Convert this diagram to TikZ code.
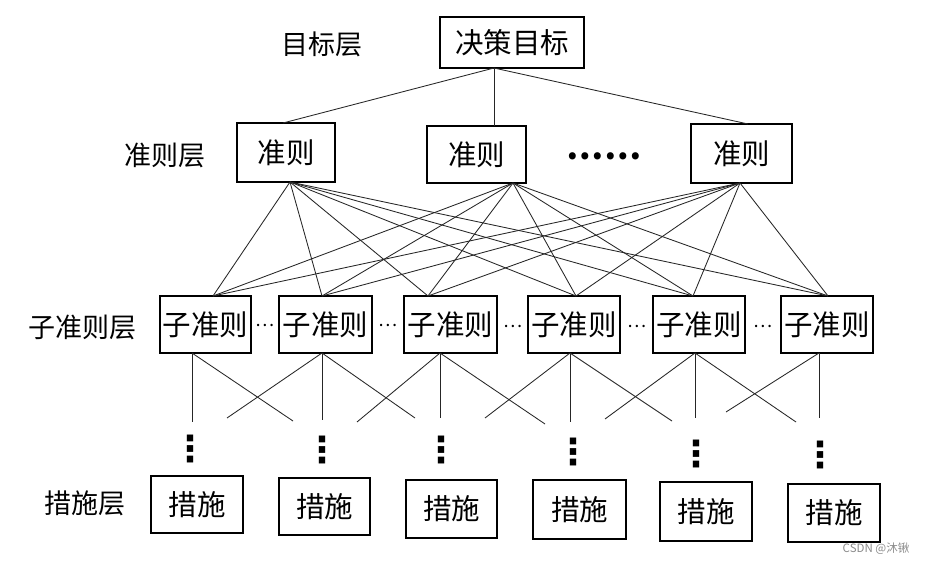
\documentclass[tikz,border=0pt]{standalone}
\usepackage{fontspec}
\setmainfont{Noto Sans CJK SC}
\newfontfamily\dvs{DejaVu Sans}
\begin{document}
\begin{tikzpicture}[x=1pt,y=-1pt,
  box/.style={draw=black,line width=1.3pt,inner sep=0pt,font=\fontsize{28.5}{30}\selectfont},
  lbl/.style={inner sep=0pt,font=\fontsize{27}{30}\selectfont},
  conn/.style={draw=black!85,line width=0.85pt},
  hdots/.style={inner sep=0pt,font=\fontsize{18}{20}\selectfont},
  vdots/.style={inner sep=0pt,font=\dvs\bfseries\fontsize{36}{38}\selectfont}]
\useasboundingbox (0,0) rectangle (926,564);
\fill[white] (0,0) rectangle (926,564);
% labels
\node[lbl] (L1) at (322,44) {目标层};
\node[lbl] (L2) at (165,155) {准则层};
\node[lbl] (L3) at (82,327) {子准则层};
\node[lbl] (L4) at (85,503) {措施层};
% top
\node[box,minimum width=144,minimum height=51] (g) at (512,42.5) {决策目标};
% criteria
\node[box,minimum width=98,minimum height=59] (c1) at (286,152.5) {准则};
\node[box,minimum width=99,minimum height=57] (c2) at (476.5,154.5) {准则};
\node[box,minimum width=101,minimum height=59] (c3) at (741.5,153.5) {准则};
\node[inner sep=0pt,font=\bfseries\fontsize{33}{36}\selectfont] (cd) at (604,156) {……};
% sub-criteria
\node[box,minimum width=91,minimum height=57] (s1) at (205.5,324.5) {子准则};
\node[box,minimum width=93,minimum height=57] (s2) at (325.5,324.5) {子准则};
\node[box,minimum width=93,minimum height=57] (s3) at (450.5,324.5) {子准则};
\node[box,minimum width=92,minimum height=57] (s4) at (574,324.5) {子准则};
\node[box,minimum width=92,minimum height=57] (s5) at (699,324.5) {子准则};
\node[box,minimum width=92,minimum height=57] (s6) at (827,324.5) {子准则};
\node[hdots] (h1) at (265,325) {…};
\node[hdots] (h2) at (388,325) {…};
\node[hdots] (h3) at (513,326) {…};
\node[hdots] (h4) at (637,326) {…};
\node[hdots] (h5) at (763,326) {…};
% measures
\node[box,minimum width=92,minimum height=57] (m1) at (197,504.5) {措施};
\node[box,minimum width=91,minimum height=57] (m2) at (324.5,506.5) {措施};
\node[box,minimum width=91,minimum height=58] (m3) at (451.5,509) {措施};
\node[box,minimum width=93,minimum height=59] (m4) at (579.5,509.5) {措施};
\node[box,minimum width=92,minimum height=59] (m5) at (706,511.5) {措施};
\node[box,minimum width=92,minimum height=58] (m6) at (834,513) {措施};
% vertical dots
\node[vdots] (v1) at (190,449) {⋮};
\node[vdots] (v2) at (322,450) {⋮};
\node[vdots] (v3) at (441,450) {⋮};
\node[vdots] (v4) at (573,452) {⋮};
\node[vdots] (v5) at (696,454) {⋮};
\node[vdots] (v6) at (820,455) {⋮};
% anchor coordinates
\coordinate (gb) at (494,68);
\coordinate (c1t) at (283,123);
\coordinate (c2t) at (494,126);
\coordinate (c3t) at (748,124);
\coordinate (c1b) at (290,182);
\coordinate (c2b) at (513,183);
\coordinate (c3b) at (740,183);
\coordinate (t1) at (213,296);
\coordinate (t2) at (322,296);
\coordinate (t3) at (428,296);
\coordinate (t4) at (576,296);
\coordinate (t5) at (693,296);
\coordinate (t6) at (828,296);
\coordinate (b1) at (192,353);
\coordinate (b2) at (322,353);
\coordinate (b3) at (440,353);
\coordinate (b4) at (570,353);
\coordinate (b5) at (695,353);
\coordinate (b6) at (819,353);
% top connectors
\draw[conn] (gb) -- (c1t);
\draw[conn] (gb) -- (c2t);
\draw[conn] (gb) -- (c3t);
% criteria to sub-criteria
\foreach \c in {c1b,c2b,c3b}{
  \foreach \t in {t1,t2,t3,t4,t5,t6}{
    \draw[conn] (\c) -- (\t);
  }
}
% sub-criteria downward lines
\coordinate (e1v) at (192,422); \coordinate (e1r) at (293,421);
\coordinate (e2v) at (322,420); \coordinate (e2l) at (227,418); \coordinate (e2r) at (415,418);
\coordinate (e3v) at (440,418); \coordinate (e3l) at (357,422); \coordinate (e3r) at (545,424);
\coordinate (e4v) at (570,422); \coordinate (e4l) at (485,418); \coordinate (e4r) at (672,421);
\coordinate (e5v) at (695,418); \coordinate (e5l) at (605,419); \coordinate (e5r) at (796,422);
\coordinate (e6v) at (819,418); \coordinate (e6l) at (726,412);
\draw[conn] (b1) -- (e1v); \draw[conn] (b1) -- (e1r);
\draw[conn] (b2) -- (e2v); \draw[conn] (b2) -- (e2l); \draw[conn] (b2) -- (e2r);
\draw[conn] (b3) -- (e3v); \draw[conn] (b3) -- (e3l); \draw[conn] (b3) -- (e3r);
\draw[conn] (b4) -- (e4v); \draw[conn] (b4) -- (e4l); \draw[conn] (b4) -- (e4r);
\draw[conn] (b5) -- (e5v); \draw[conn] (b5) -- (e5l); \draw[conn] (b5) -- (e5r);
\draw[conn] (b6) -- (e6v); \draw[conn] (b6) -- (e6l);
% watermark
\node[inner sep=0pt,text=black!45,font=\fontsize{11.5}{12}\selectfont] (wm) at (876,549) {CSDN @沐锹};
\end{tikzpicture}
\end{document}
